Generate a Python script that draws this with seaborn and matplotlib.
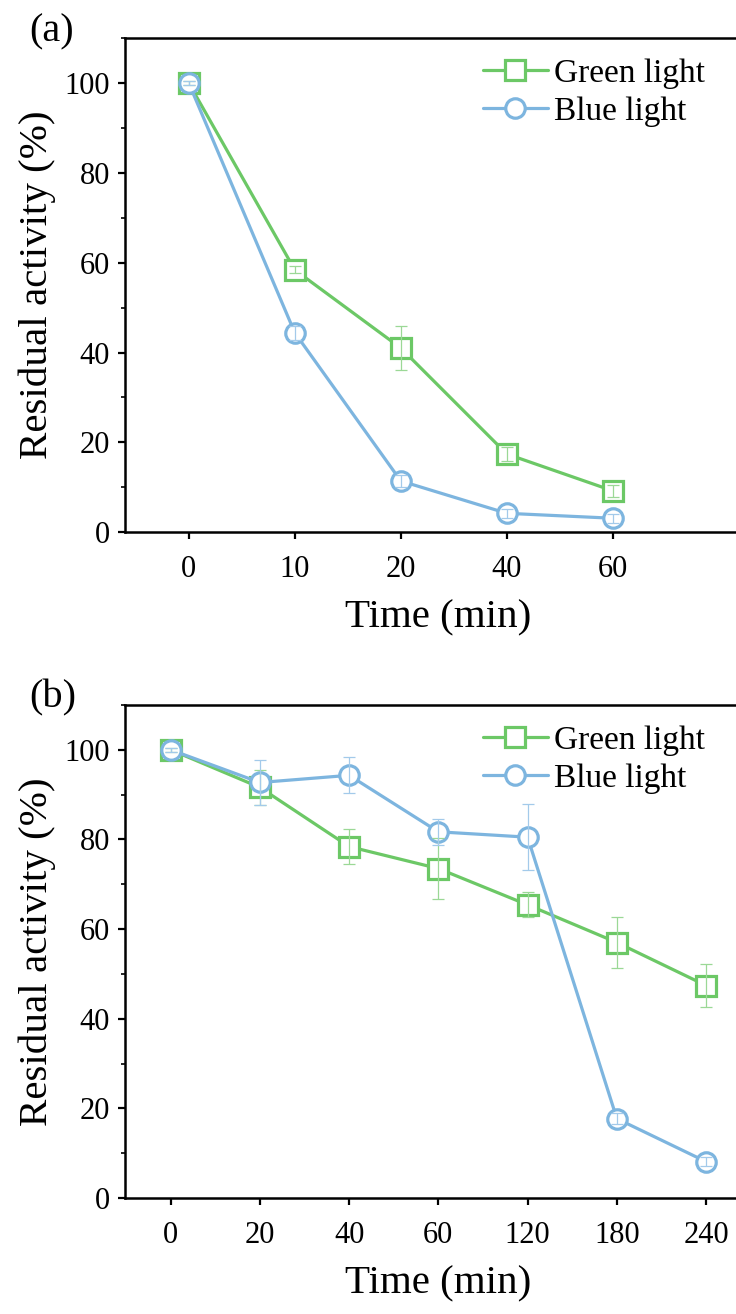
import matplotlib
matplotlib.use("Agg")
import matplotlib.pyplot as plt
import seaborn as sns
import pandas as pd
import numpy as np
from matplotlib.ticker import MultipleLocator

sns.set_theme(style="ticks")
plt.rcParams['font.family'] = ['Liberation Serif', 'DejaVu Serif']
plt.rcParams['text.color'] = 'black'
plt.rcParams['axes.labelcolor'] = 'black'

# Panel (a)
time_a = ["0", "10", "20", "40", "60"]
green_a = [100, 58.4, 41.0, 17.4, 9.2]
green_a_err = [0.5, 0.8, 4.8, 1.5, 1.3]
blue_a = [100, 44.4, 11.4, 4.2, 3.1]
blue_a_err = [0.5, 1.6, 1.3, 1.0, 1.0]

# Panel (b)
time_b = ["0", "20", "40", "60", "120", "180", "240"]
green_b = [100, 91.6, 78.4, 73.5, 65.4, 57.0, 47.4]
green_b_err = [0.5, 4.0, 3.9, 6.9, 2.8, 5.6, 4.7]
blue_b = [100, 92.7, 94.3, 81.7, 80.5, 17.7, 8.1]
blue_b_err = [0.5, 5.0, 4.0, 2.9, 7.3, 1.2, 1.0]

GREEN = "#6CC866"
BLUE = "#7DB5DF"
GREEN_E = "#9BD896"
BLUE_E = "#A3CAEA"

fig = plt.figure(figsize=(7.36, 13.14), dpi=100)
ax_a = fig.add_axes([0.170, 0.595, 0.85, 0.376])
ax_b = fig.add_axes([0.170, 0.0883, 0.85, 0.3752])


def draw(ax, cats, g, ge, b, be, xleft, xright):
    df = pd.DataFrame({
        "pos": list(range(len(cats))) * 2,
        "val": g + b,
        "series": ["Green light"] * len(cats) + ["Blue light"] * len(cats),
    })
    sns.lineplot(data=df, x="pos", y="val", hue="series", style="series",
                 palette={"Green light": GREEN, "Blue light": BLUE},
                 markers={"Green light": "s", "Blue light": "o"},
                 dashes=False, linewidth=2.3, markersize=14,
                 markeredgewidth=2.3,
                 ax=ax, legend=True, zorder=3)
    for ln in ax.lines:
        ln.set_markeredgecolor(ln.get_color())
        ln.set_markerfacecolor("white")
    # error bars on top
    pos = np.arange(len(cats))
    ax.errorbar(pos, g, yerr=ge, fmt="none", ecolor=GREEN_E, elinewidth=0.9,
                capsize=4, capthick=0.9, zorder=5)
    ax.errorbar(pos, b, yerr=be, fmt="none", ecolor=BLUE_E, elinewidth=0.9,
                capsize=4, capthick=0.9, zorder=5)
    ax.set_xticks(pos)
    ax.set_xticklabels(cats)
    ax.set_xlim(xleft, xright)
    ax.set_ylim(0, 110)
    ax.yaxis.set_major_locator(MultipleLocator(20))
    ax.yaxis.set_minor_locator(MultipleLocator(10))
    ax.tick_params(axis="both", which="major", direction="out", length=5,
                   width=1.6, labelsize=22, colors="black", pad=6)
    ax.tick_params(axis="x", which="major", pad=11.5)
    ax.tick_params(axis="y", which="minor", direction="out", length=3,
                   width=1.4)
    for s in ax.spines.values():
        s.set_linewidth(1.8)
        s.set_color("black")
    ax.set_xlabel("Time (min)", fontsize=29.5, labelpad=11)
    ax.set_ylabel("Residual activity (%)", fontsize=29.5, labelpad=6)
    leg = ax.legend(loc="upper right", bbox_to_anchor=(0.938, 0.972), frameon=False,
                    fontsize=24, handlelength=1.95, handletextpad=0.2,
                    labelspacing=0.22, borderaxespad=0.0, borderpad=0.2)
    for h in leg.legend_handles:
        h.set_markeredgecolor(h.get_color())
        h.set_markerfacecolor("white")
        h.set_markeredgewidth(2.3)
        h.set_linewidth(2.3)


draw(ax_a, time_a, green_a, green_a_err, blue_a, blue_a_err, -0.6, 5.3)
draw(ax_b, time_b, green_b, green_b_err, blue_b, blue_b_err, -0.51, 6.5)

fig.text(0.040, 0.990, "(a)", fontsize=29, ha="left", va="top")
fig.text(0.040, 0.483, "(b)", fontsize=29, ha="left", va="top")

fig.savefig("out.png", dpi=100)
